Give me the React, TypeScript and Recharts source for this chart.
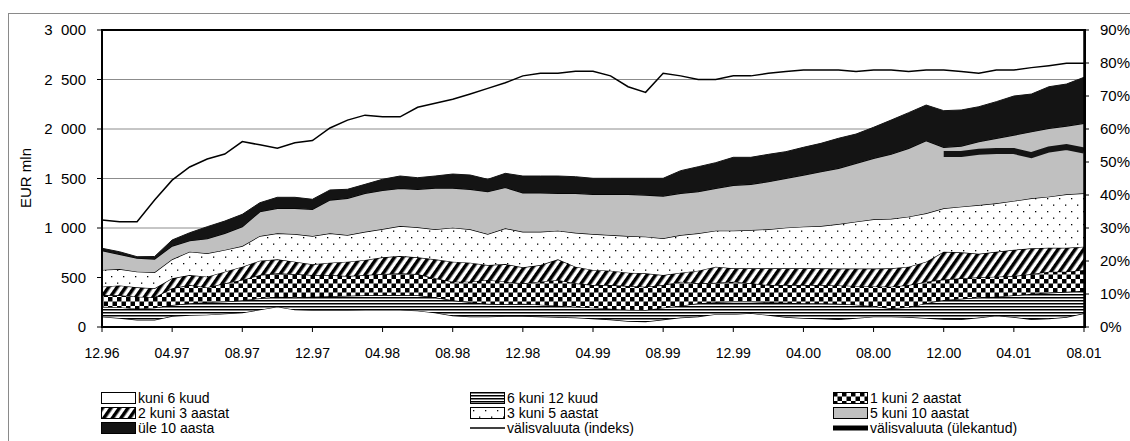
import { ComposedChart, Area, Line, XAxis, YAxis, CartesianGrid } from 'recharts'

// Month-end stock by remaining maturity, EUR mln, 12.96 ... 08.01
const months = [
  '12.96',
  '01.97', '02.97', '03.97', '04.97', '05.97', '06.97', '07.97', '08.97', '09.97', '10.97', '11.97', '12.97',
  '01.98', '02.98', '03.98', '04.98', '05.98', '06.98', '07.98', '08.98', '09.98', '10.98', '11.98', '12.98',
  '01.99', '02.99', '03.99', '04.99', '05.99', '06.99', '07.99', '08.99', '09.99', '10.99', '11.99', '12.99',
  '01.00', '02.00', '03.00', '04.00', '05.00', '06.00', '07.00', '08.00', '09.00', '10.00', '11.00', '12.00',
  '01.01', '02.01', '03.01', '04.01', '05.01', '06.01', '07.01', '08.01',
]

const kuni6 = [104, 90, 71, 71, 110, 120, 125, 135, 145, 175, 205, 175, 170, 170, 170, 172, 172, 172, 165, 145, 115, 104, 104, 110, 110, 105, 100, 95, 85, 75, 60, 55, 75, 95, 105, 130, 130, 140, 120, 100, 90, 85, 78, 90, 104, 104, 100, 90, 80, 78, 95, 114, 100, 78, 85, 100, 138]
const kuni12 = [101, 110, 114, 124, 112, 120, 125, 121, 125, 115, 101, 125, 136, 140, 145, 148, 151, 151, 155, 155, 155, 146, 131, 120, 125, 120, 115, 110, 110, 110, 115, 117, 120, 120, 134, 120, 126, 116, 130, 145, 150, 154, 157, 135, 106, 85, 100, 150, 193, 207, 205, 192, 220, 257, 260, 255, 229]
const aasta1_2 = [118, 120, 121, 105, 169, 184, 150, 185, 205, 235, 236, 235, 219, 215, 200, 205, 212, 219, 215, 192, 188, 208, 240, 228, 206, 233, 260, 236, 229, 239, 239, 235, 229, 243, 202, 197, 202, 185, 174, 179, 184, 185, 185, 190, 200, 218, 224, 218, 207, 207, 202, 202, 195, 200, 214, 204, 209]
const aasta2_3 = [84, 100, 95, 91, 101, 101, 108, 118, 134, 145, 142, 125, 108, 125, 145, 152, 169, 175, 169, 192, 202, 192, 151, 178, 162, 168, 209, 168, 152, 145, 135, 135, 101, 91, 128, 162, 135, 152, 169, 169, 169, 169, 170, 175, 180, 186, 185, 202, 280, 263, 238, 252, 265, 260, 242, 241, 235]
const aasta3_5 = [169, 166, 158, 161, 192, 236, 236, 219, 209, 249, 262, 279, 286, 296, 269, 285, 286, 303, 303, 303, 343, 337, 313, 361, 359, 336, 289, 343, 363, 360, 370, 370, 371, 380, 377, 364, 380, 387, 394, 410, 420, 427, 450, 474, 498, 500, 505, 488, 439, 460, 492, 489, 493, 505, 515, 540, 539]
const aasta5_10 = [195, 148, 136, 135, 134, 111, 148, 168, 195, 246, 253, 260, 270, 337, 371, 388, 390, 380, 384, 417, 401, 404, 428, 413, 394, 394, 377, 398, 401, 411, 421, 421, 427, 421, 421, 428, 458, 461, 481, 499, 522, 549, 563, 589, 616, 652, 691, 734, 616, 613, 640, 657, 666, 673, 691, 690, 707]
const yle10 = [24, 26, 15, 25, 61, 80, 121, 124, 125, 90, 111, 111, 101, 101, 91, 91, 112, 125, 117, 121, 141, 144, 125, 142, 169, 169, 175, 168, 162, 162, 162, 169, 179, 229, 252, 259, 283, 273, 276, 269, 280, 286, 303, 296, 313, 345, 360, 360, 370, 364, 353, 370, 394, 380, 420, 424, 465]

// foreign currency share, % (right axis)
const valisIndeks = [32.4, 31.9, 31.9, 38.5, 44.5, 48.5, 50.9, 52.4, 56.2, 55.2, 54.2, 55.8, 56.5, 60.3, 62.7, 64.2, 63.7, 63.7, 66.6, 67.8, 69.0, 70.6, 72.3, 74.0, 76.1, 76.9, 76.9, 77.5, 77.5, 76.1, 72.8, 71.1, 76.9, 76.1, 75.0, 75.0, 76.1, 76.1, 76.9, 77.4, 77.9, 77.9, 77.9, 77.4, 77.9, 77.9, 77.4, 77.9, 77.9, 77.4, 76.9, 77.9, 77.9, 78.6, 79.2, 79.9, 79.9]
const valisYlekantud = [
  null, null, null, null, null, null, null, null, null, null, null, null, null,
  null, null, null, null, null, null, null, null, null, null, null, null,
  null, null, null, null, null, null, null, null, null, null, null, null,
  null, null, null, null, null, null, null, null, null, null, null,
  52.4, 52.4, 53.1, 53.3, 53.3, 52.1, 53.8, 54.5, 53.5,
]

const eurTicks = [0, 500, 1000, 1500, 2000, 2500, 3000]
const pctTicks = [0, 10, 20, 30, 40, 50, 60, 70, 80, 90]

const data = months.map((month, i) => ({
  month,
  kuni6: kuni6[i],
  kuni12: kuni12[i],
  aasta1_2: aasta1_2[i],
  aasta2_3: aasta2_3[i],
  aasta3_5: aasta3_5[i],
  aasta5_10: aasta5_10[i],
  yle10: yle10[i],
  indeks: valisIndeks[i],
  ylekantud: valisYlekantud[i],
}))

const FONT = '"Liberation Sans", Arial, sans-serif'
const xTickStyle = { fontSize: 14, fill: '#000', fontFamily: FONT }
const yTickStyle = { fontSize: 15, fill: '#000', fontFamily: FONT }

// thousands separated by a wide gap: "3  000"
const fmtEur = (v: number) => String(v).replace(/\B(?=(\d{3})+(?!\d))/g, '\u00a0\u00a0')

function Patterns() {
  return (
    <svg width={0} height={0} style={{ position: 'absolute' }}>
      <defs>
        <pattern id="pHlines" width={4} height={3} patternUnits="userSpaceOnUse">
          <rect width={4} height={3} fill="#fff" />
          <rect width={4} height={1.5} fill="#000" />
        </pattern>
        <pattern id="pChecker" width={9} height={9} patternUnits="userSpaceOnUse">
          <rect width={9} height={9} fill="#fff" />
          <rect width={4.5} height={4.5} fill="#000" />
          <rect x={4.5} y={4.5} width={4.5} height={4.5} fill="#000" />
        </pattern>
        <pattern id="pDiag" width={7} height={7} patternUnits="userSpaceOnUse" patternTransform="rotate(35)">
          <rect width={7} height={7} fill="#fff" />
          <rect width={3.5} height={7} fill="#000" />
        </pattern>
        <pattern id="pDots" width={12} height={13} patternUnits="userSpaceOnUse">
          <rect width={12} height={13} fill="#fff" />
          <rect x={3} y={3} width={1.3} height={1.3} fill="#000" />
          <rect x={9} y={9.5} width={1.3} height={1.3} fill="#000" />
        </pattern>
      </defs>
    </svg>
  )
}

type LegendItem = { label: string; fill?: string; line?: number; x: number; y: number }

const legendItems: LegendItem[] = [
  { label: 'kuni 6 kuud', fill: '#fff', x: 101, y: 392 },
  { label: '6 kuni 12 kuud', fill: 'url(#pHlines)', x: 470, y: 392 },
  { label: '1 kuni 2 aastat', fill: 'url(#pChecker)', x: 833, y: 392 },
  { label: '2 kuni 3 aastat', fill: 'url(#pDiag)', x: 101, y: 407 },
  { label: '3 kuni 5 aastat', fill: 'url(#pDots)', x: 470, y: 407 },
  { label: '5 kuni 10 aastat', fill: '#c0c0c0', x: 833, y: 407 },
  { label: 'üle 10 aasta', fill: '#141414', x: 101, y: 422 },
  { label: 'välisvaluuta (indeks)', line: 1.5, x: 470, y: 422 },
  { label: 'välisvaluuta (ülekantud)', line: 5, x: 833, y: 422 },
]

function Legend() {
  return (
    <>
      {legendItems.map((it) => (
        <div
          key={it.label}
          style={{ position: 'absolute', left: it.x, top: it.y, height: 12, display: 'flex', alignItems: 'center' }}
        >
          <svg width={36} height={12}>
            {it.fill ? (
              <rect x={0.5} y={0.5} width={34} height={11} fill={it.fill} stroke="#000" strokeWidth={1} />
            ) : (
              <line x1={0} x2={35} y1={6} y2={6} stroke="#000" strokeWidth={it.line} />
            )}
          </svg>
          <span style={{ fontFamily: FONT, fontSize: 14, lineHeight: '12px', marginLeft: 1, whiteSpace: 'nowrap' }}>
            {it.label}
          </span>
        </div>
      ))}
    </>
  )
}

export default function App() {
  return (
    <div style={{ position: 'relative', width: 1130, height: 441, background: '#fff', overflow: 'hidden' }}>
      <style>{'html,body{margin:0;padding:0;overflow:hidden;background:#fff}'}</style>
      <Patterns />
      <div
        style={{
          position: 'absolute',
          left: 8,
          top: 13,
          width: 1200,
          height: 500,
          borderLeft: '1px solid #8a8a8a',
          borderTop: '1px solid #8a8a8a',
        }}
      />
      <div style={{ position: 'absolute', left: 0, top: 0 }}>
        <ComposedChart width={1130} height={367} data={data} margin={{ top: 30, right: 0, bottom: 0, left: 42 }}>
          <CartesianGrid yAxisId="eur" vertical={false} stroke="#8c8c8c" strokeWidth={1} />
          <XAxis
            dataKey="month"
            scale="point"
            interval={3}
            tick={xTickStyle}
            tickSize={5}
            tickMargin={16}
            height={40}
            axisLine={{ stroke: '#000', strokeWidth: 1.5 }}
            tickLine={{ stroke: '#000' }}
          />
          <YAxis
            yAxisId="eur"
            domain={[0, 3000]}
            ticks={eurTicks}
            tickFormatter={fmtEur}
            tick={yTickStyle}
            tickSize={5}
            tickMargin={11}
            width={60}
            axisLine={{ stroke: '#000', strokeWidth: 1.5 }}
            tickLine={{ stroke: '#000' }}
          />
          <YAxis
            yAxisId="pct"
            orientation="right"
            domain={[0, 90]}
            ticks={pctTicks}
            tickFormatter={(v: number) => `${v}%`}
            tick={yTickStyle}
            tickSize={5}
            tickMargin={11}
            width={46}
            axisLine={{ stroke: '#000', strokeWidth: 1.5 }}
            tickLine={{ stroke: '#000' }}
          />
          <Area yAxisId="eur" type="linear" dataKey="kuni6" stackId="s" fill="#fff" fillOpacity={1} stroke="#000" strokeWidth={1.3} isAnimationActive={false} activeDot={false} />
          <Area yAxisId="eur" type="linear" dataKey="kuni12" stackId="s" fill="url(#pHlines)" fillOpacity={1} stroke="#000" strokeWidth={1.3} isAnimationActive={false} activeDot={false} />
          <Area yAxisId="eur" type="linear" dataKey="aasta1_2" stackId="s" fill="url(#pChecker)" fillOpacity={1} stroke="#000" strokeWidth={1.3} isAnimationActive={false} activeDot={false} />
          <Area yAxisId="eur" type="linear" dataKey="aasta2_3" stackId="s" fill="url(#pDiag)" fillOpacity={1} stroke="#000" strokeWidth={1.3} isAnimationActive={false} activeDot={false} />
          <Area yAxisId="eur" type="linear" dataKey="aasta3_5" stackId="s" fill="url(#pDots)" fillOpacity={1} stroke="#000" strokeWidth={1.3} isAnimationActive={false} activeDot={false} />
          <Area yAxisId="eur" type="linear" dataKey="aasta5_10" stackId="s" fill="#c0c0c0" fillOpacity={1} stroke="#000" strokeWidth={1.3} isAnimationActive={false} activeDot={false} />
          <Area yAxisId="eur" type="linear" dataKey="yle10" stackId="s" fill="#141414" fillOpacity={1} stroke="#141414" strokeWidth={1} isAnimationActive={false} activeDot={false} />
          <Line yAxisId="pct" type="linear" dataKey="indeks" stroke="#000" strokeWidth={1.5} dot={false} activeDot={false} isAnimationActive={false} />
          <Line yAxisId="pct" type="linear" dataKey="ylekantud" stroke="#141414" strokeWidth={6} dot={false} activeDot={false} connectNulls={false} isAnimationActive={false} />
        </ComposedChart>
      </div>
      {/* plot frame */}
      <div
        style={{
          position: 'absolute',
          left: 101,
          top: 29,
          width: 985,
          height: 299,
          boxSizing: 'border-box',
          border: '2px solid #000',
          pointerEvents: 'none',
        }}
      />
      <div
        style={{
          position: 'absolute',
          left: 25,
          top: 178,
          transform: 'translate(-50%, -50%) rotate(-90deg)',
          fontFamily: FONT,
          fontSize: 15,
          whiteSpace: 'nowrap',
        }}
      >
        EUR mln
      </div>
      <Legend />
    </div>
  )
}
